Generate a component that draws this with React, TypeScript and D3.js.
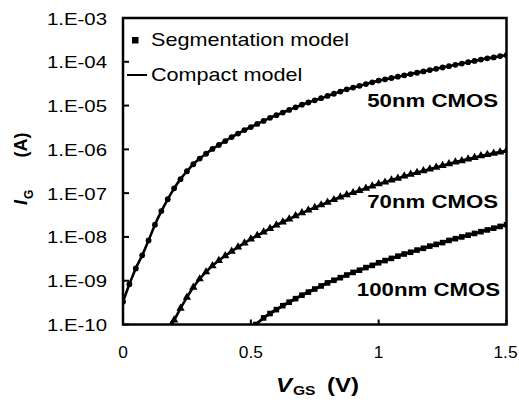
import React from "react";
import * as d3 from "d3";

// [V_GS (V), log10(I_G / A)]
const cmos50: [number, number][] = [
  [0, -9.48], [0.025, -9.08], [0.05, -8.72], [0.075, -8.42], [0.1, -8.08], [0.125, -7.72],
  [0.15, -7.41], [0.175, -7.14], [0.2, -6.89], [0.225, -6.68], [0.25, -6.5], [0.275, -6.34],
  [0.3, -6.21], [0.325, -6.1], [0.35, -5.99], [0.375, -5.9], [0.4, -5.81], [0.425, -5.72],
  [0.45, -5.64], [0.475, -5.56], [0.5, -5.49], [0.525, -5.42], [0.55, -5.35], [0.575, -5.28],
  [0.6, -5.22], [0.625, -5.16], [0.65, -5.1], [0.675, -5.04], [0.7, -4.98], [0.725, -4.93],
  [0.75, -4.88], [0.775, -4.83], [0.8, -4.78], [0.825, -4.73], [0.85, -4.68], [0.875, -4.63],
  [0.9, -4.59], [0.925, -4.55], [0.95, -4.51], [0.975, -4.47], [1.0, -4.43], [1.025, -4.4],
  [1.05, -4.37], [1.075, -4.34], [1.1, -4.31], [1.125, -4.28], [1.15, -4.25], [1.175, -4.22],
  [1.2, -4.19], [1.225, -4.16], [1.25, -4.13], [1.275, -4.1], [1.3, -4.07], [1.325, -4.04],
  [1.35, -4.01], [1.375, -3.98], [1.4, -3.95], [1.425, -3.92], [1.45, -3.9], [1.475, -3.87],
  [1.5, -3.85],
];

const cmos70: [number, number][] = [
  [0.19, -10.0], [0.2, -9.9], [0.225, -9.63], [0.25, -9.38], [0.275, -9.15], [0.3, -8.96],
  [0.325, -8.8], [0.35, -8.66], [0.375, -8.54], [0.4, -8.43], [0.425, -8.33], [0.45, -8.23],
  [0.475, -8.14], [0.5, -8.05], [0.525, -7.97], [0.55, -7.89], [0.575, -7.81], [0.6, -7.73],
  [0.625, -7.66], [0.65, -7.59], [0.675, -7.52], [0.7, -7.45], [0.725, -7.39], [0.75, -7.33],
  [0.775, -7.27], [0.8, -7.21], [0.825, -7.15], [0.85, -7.09], [0.875, -7.04], [0.9, -6.99],
  [0.925, -6.94], [0.95, -6.89], [0.975, -6.84], [1.0, -6.79], [1.025, -6.75], [1.05, -6.7],
  [1.075, -6.66], [1.1, -6.61], [1.125, -6.57], [1.15, -6.53], [1.175, -6.49], [1.2, -6.45],
  [1.225, -6.41], [1.25, -6.37], [1.275, -6.33], [1.3, -6.29], [1.325, -6.26], [1.35, -6.22],
  [1.375, -6.19], [1.4, -6.15], [1.425, -6.12], [1.45, -6.09], [1.475, -6.06], [1.5, -6.03],
];

const cmos100: [number, number][] = [
  [0.52, -10.0], [0.55, -9.85], [0.575, -9.75], [0.6, -9.66], [0.625, -9.57], [0.65, -9.49],
  [0.675, -9.41], [0.7, -9.33], [0.725, -9.26], [0.75, -9.19], [0.775, -9.12], [0.8, -9.05],
  [0.825, -8.99], [0.85, -8.93], [0.875, -8.87], [0.9, -8.81], [0.925, -8.76], [0.95, -8.7],
  [0.975, -8.65], [1.0, -8.59], [1.025, -8.54], [1.05, -8.49], [1.075, -8.44], [1.1, -8.39],
  [1.125, -8.35], [1.15, -8.3], [1.175, -8.26], [1.2, -8.21], [1.225, -8.17], [1.25, -8.13],
  [1.275, -8.08], [1.3, -8.04], [1.325, -8.0], [1.35, -7.96], [1.375, -7.92], [1.4, -7.88],
  [1.425, -7.84], [1.45, -7.8], [1.475, -7.76], [1.5, -7.72],
];

const yTickLabels = ["1.E-10", "1.E-09", "1.E-08", "1.E-07", "1.E-06", "1.E-05", "1.E-04", "1.E-03"];
const yTickValues = [1e-10, 1e-9, 1e-8, 1e-7, 1e-6, 1e-5, 1e-4, 1e-3];
const xTickValues = [0, 0.5, 1, 1.5];
const xTickLabels = ["0", "0.5", "1", "1.5"];
const seriesLabels = ["50nm CMOS", "70nm CMOS", "100nm CMOS"];
const legendLabels = ["Segmentation model", "Compact model"];

const FONT = "'Liberation Sans', Arial, Helvetica, sans-serif";

const L = 123, R = 506.5, T = 18, B = 324.5;
const x = d3.scaleLinear().domain([0, 1.5]).range([L, R]);
const y = d3.scaleLog().domain([1e-10, 1e-3]).range([B, T]);

const toXY = (p: [number, number]) => [x(p[0]), y(Math.pow(10, p[1]))] as [number, number];

function SText(props: {
  x: number; y: number; anchor?: string; size: number; weight?: string; sx?: number;
  children: React.ReactNode; style?: string;
}) {
  const { anchor = "start", size, weight = "normal", sx = 1.2, style = "normal" } = props;
  return (
    <text
      transform={`translate(${props.x},${props.y}) scale(${sx},1)`}
      textAnchor={anchor}
      fontSize={size}
      fontWeight={weight}
      fontStyle={style}
      fontFamily={FONT}
      fill="#000"
    >
      {props.children}
    </text>
  );
}

export default function App() {
  const line = d3.line<[number, number]>().x((d) => d[0]).y((d) => d[1]).curve(d3.curveMonotoneX);
  const p50 = cmos50.map(toXY);
  const p70 = cmos70.map(toXY);
  const p100 = cmos100.map(toXY);
  const tri = d3.symbol().type(d3.symbolTriangle).size(30)()!;

  return (
    <svg width={519} height={400} style={{ position: "absolute", left: 0, top: 0, background: "#fff" }}>
      <rect x={0} y={0} width={519} height={400} fill="#fff" />
      <defs>
        <clipPath id="plot">
          <rect x={L} y={T} width={R - L} height={B - T} />
        </clipPath>
      </defs>

      <g clipPath="url(#plot)">
        <path d={line(p50)!} fill="none" stroke="#000" strokeWidth={2.6} />
        {p50.map((p, i) => (
          <circle key={i} cx={p[0]} cy={p[1]} r={2.9} fill="#000" />
        ))}
        <path d={line(p70)!} fill="none" stroke="#000" strokeWidth={2.6} />
        {p70.map((p, i) => (
          <path key={i} d={tri} transform={`translate(${p[0]},${p[1]})`} fill="#000" />
        ))}
        <path d={line(p100)!} fill="none" stroke="#000" strokeWidth={3} />
        {p100.map((p, i) => (
          <rect key={i} x={p[0] - 2.8} y={p[1] - 2.8} width={5.6} height={5.6} fill="#000" />
        ))}
      </g>

      {/* frame */}
      <rect x={L} y={T} width={R - L} height={B - T} fill="none" stroke="#000" strokeWidth={2.5} />
      {yTickValues.map((v, i) => (
        <line key={"yt" + i} x1={L} x2={L + 6} y1={y(v)} y2={y(v)} stroke="#000" strokeWidth={2} />
      ))}
      {xTickValues.map((v, i) => (
        <line key={"xt" + i} x1={x(v)} x2={x(v)} y1={B} y2={B - 5} stroke="#000" strokeWidth={2} />
      ))}

      {/* tick labels */}
      {yTickValues.map((v, i) => (
        <SText key={"yl" + i} x={107} y={y(v) + 6.5} anchor="end" size={17}>
          {yTickLabels[i]}
        </SText>
      ))}
      {xTickValues.map((v, i) => (
        <SText key={"xl" + i} x={x(v) - (i === 3 ? 1 : 0)} y={358} anchor="middle" size={17} sx={1.02}>
          {xTickLabels[i]}
        </SText>
      ))}

      {/* axis titles */}
      <SText x={276} y={392} size={20} weight="bold" style="italic">V</SText>
      <SText x={293} y={395} size={13} weight="bold">GS</SText>
      <SText x={327} y={392} size={20} weight="bold">(V)</SText>

      <text transform="translate(27,205) rotate(-90)" fontFamily={FONT} fontWeight="bold" fontSize={18} fill="#000">
        <tspan fontStyle="italic">I</tspan>
        <tspan fontSize={12} dy={6} dx={1}>G</tspan>
      </text>
      <text transform="translate(27,145) rotate(-90)" fontFamily={FONT} fontWeight="bold" fontSize={18} fill="#000" textAnchor="middle">
        (A)
      </text>

      {/* legend */}
      <rect x={132} y={37} width={6.5} height={6.5} fill="#000" />
      <SText x={151} y={46} size={18}>{legendLabels[0]}</SText>
      <line x1={127} x2={147} y1={75} y2={75} stroke="#000" strokeWidth={2} />
      <SText x={151} y={81} size={18}>{legendLabels[1]}</SText>

      {/* series labels */}
      <SText x={498} y={107} anchor="end" size={19} weight="bold" sx={1.17}>{seriesLabels[0]}</SText>
      <SText x={498} y={208} anchor="end" size={19} weight="bold" sx={1.17}>{seriesLabels[1]}</SText>
      <SText x={500} y={296} anchor="end" size={19} weight="bold" sx={1.17}>{seriesLabels[2]}</SText>
    </svg>
  );
}
